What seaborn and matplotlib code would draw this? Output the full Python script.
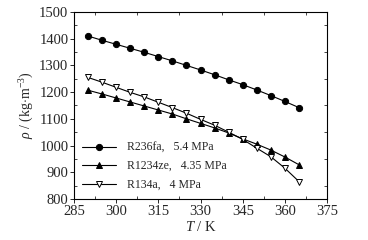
import matplotlib
matplotlib.use("Agg")
import matplotlib.pyplot as plt
import seaborn as sns
import pandas as pd
from matplotlib.ticker import MultipleLocator

sns.set_theme(style="ticks")
plt.rcParams['font.family'] = ['Liberation Serif', 'DejaVu Serif']
plt.rcParams['mathtext.fontset'] = 'custom'
plt.rcParams['mathtext.rm'] = 'Liberation Serif'
plt.rcParams['mathtext.it'] = 'Liberation Serif:italic'

temperature = [290, 295, 300, 305, 310, 315, 320, 325, 330, 335, 340, 345, 350, 355, 360, 365]
r236fa = [1410, 1394, 1379, 1364, 1349, 1333, 1317, 1300, 1283, 1265, 1246, 1228, 1208, 1187, 1165, 1142]
r1234ze = [1207, 1193, 1178, 1163, 1148, 1133, 1118, 1100, 1083, 1066, 1047, 1025, 1005, 983, 957, 928]
r134a = [1255, 1237, 1218, 1199, 1182, 1162, 1142, 1121, 1098, 1076, 1050, 1023, 990, 958, 915, 865]
labels = ["R236fa,   5.4 MPa", "R1234ze,   4.35 MPa", "R134a,   4 MPa"]

fig = plt.figure(figsize=(3.68, 2.40), dpi=100)
ax = fig.add_axes([0.201, 0.171, 0.688, 0.779])

styles = [("o", "black"), ("^", "black"), ("v", "white")]
for vals, lab, (m, fc) in zip([r236fa, r1234ze, r134a], labels, styles):
    df = pd.DataFrame({"T": temperature, "rho": vals})
    sns.lineplot(data=df, x="T", y="rho", ax=ax, color="black", lw=0.8,
                 marker=m, markersize=4.5, markerfacecolor=fc,
                 markeredgecolor="black", markeredgewidth=0.7, label=lab)

ax.set_xlim(285, 375)
ax.set_ylim(800, 1500)
ax.xaxis.set_major_locator(MultipleLocator(15))
ax.xaxis.set_minor_locator(MultipleLocator(7.5))
ax.yaxis.set_major_locator(MultipleLocator(100))
ax.yaxis.set_minor_locator(MultipleLocator(50))
ax.tick_params(which='major', direction='out', length=3, width=0.7, labelsize=10.5, pad=1,
               top=False, right=False)
ax.tick_params(which='minor', direction='in', length=2, width=0.6, top=True, right=True)
for s in ax.spines.values():
    s.set_linewidth(0.8)
    s.set_color('black')

ax.set_xlabel(r"$T$ / K", fontsize=10.5, labelpad=2)
ax.set_ylabel(r"$\rho$ / (kg$\cdot$m$^{-3}$)", fontsize=10, labelpad=2)

leg = ax.legend(loc="lower left", frameon=False, fontsize=8.5, handlelength=2.9,
                labelspacing=0.55, borderaxespad=0.3, handletextpad=0.9)

fig.savefig("out.png", dpi=100)
